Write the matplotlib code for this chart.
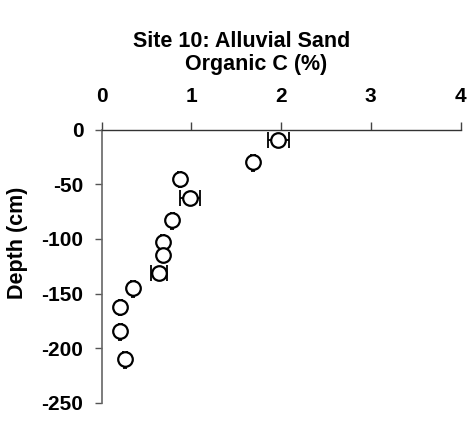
import matplotlib
matplotlib.use("Agg")
import matplotlib.pyplot as plt
import numpy as np

plt.rcParams['font.family'] = ['Liberation Sans', 'DejaVu Sans']

organic_c = [1.97, 1.69, 0.87, 0.99, 0.79, 0.68, 0.68, 0.64, 0.35, 0.21, 0.21, 0.26]
depth = [-10, -30, -45, -63, -83, -103, -115, -131, -145, -162, -184, -210]
c_err = [0.12, 0.02, 0.02, 0.11, 0.02, 0.02, 0.02, 0.09, 0.02, 0.02, 0.02, 0.02]
depth_err_low = [0, 8, 8, 0, 8, 0, 0, 0, 8, 8, 8, 8]

x_ticks = [0, 1, 2, 3, 4]
y_ticks = [0, -50, -100, -150, -200, -250]

W, H = 476, 424
fig = plt.figure(figsize=(W/100, H/100), dpi=100)
ax = fig.add_axes([101.5/W, 21/H, 359/W, 273.5/H])

yerr = np.array([depth_err_low, [0]*len(depth)])
ax.errorbar(organic_c, depth, xerr=c_err, fmt='none', ecolor='black',
            elinewidth=1.3, capsize=5.5, capthick=1.3, zorder=2)
ax.errorbar(organic_c, depth, yerr=yerr, fmt='none', ecolor='black',
            elinewidth=1.3, capsize=1.5, capthick=1.3, zorder=2)
ax.plot(organic_c, depth, 'o', markersize=10.5, markerfacecolor='white',
        markeredgecolor='black', markeredgewidth=1.6, linestyle='none', zorder=3)

ax.set_xlim(0, 4)
ax.set_ylim(-250, 0)
ax.xaxis.tick_top()
ax.set_xticks(x_ticks)
ax.set_yticks(y_ticks)
ax.set_xticklabels([str(v) for v in x_ticks], fontsize=15, fontweight='bold')
ax.set_yticklabels([str(v) for v in y_ticks], fontsize=15, fontweight='bold')
ax.tick_params(axis='x', direction='out', length=6, width=1, pad=11, color='#444444')
ax.tick_params(axis='y', direction='out', length=5, width=1, pad=8, color='#555555')
ax.spines['bottom'].set_visible(False)
ax.spines['right'].set_visible(False)
ax.spines['top'].set_color('#333333')
ax.spines['left'].set_color('#666666')
ax.spines['top'].set_linewidth(1)
ax.spines['left'].set_linewidth(1.2)

fig.text(241.7/W, 1 - 46.7/H, 'Site 10: Alluvial Sand', ha='center', va='baseline',
         fontsize=15.5, fontweight='bold')
fig.text(256.6/W, 1 - 70/H, 'Organic C (%)', ha='center', va='baseline',
         fontsize=15.5, fontweight='bold')
fig.text(18/W, 1 - 242.5/H, 'Depth (cm)', ha='center', va='center', rotation=90,
         fontsize=15.5, fontweight='bold')

fig.savefig('out.png', dpi=100)
